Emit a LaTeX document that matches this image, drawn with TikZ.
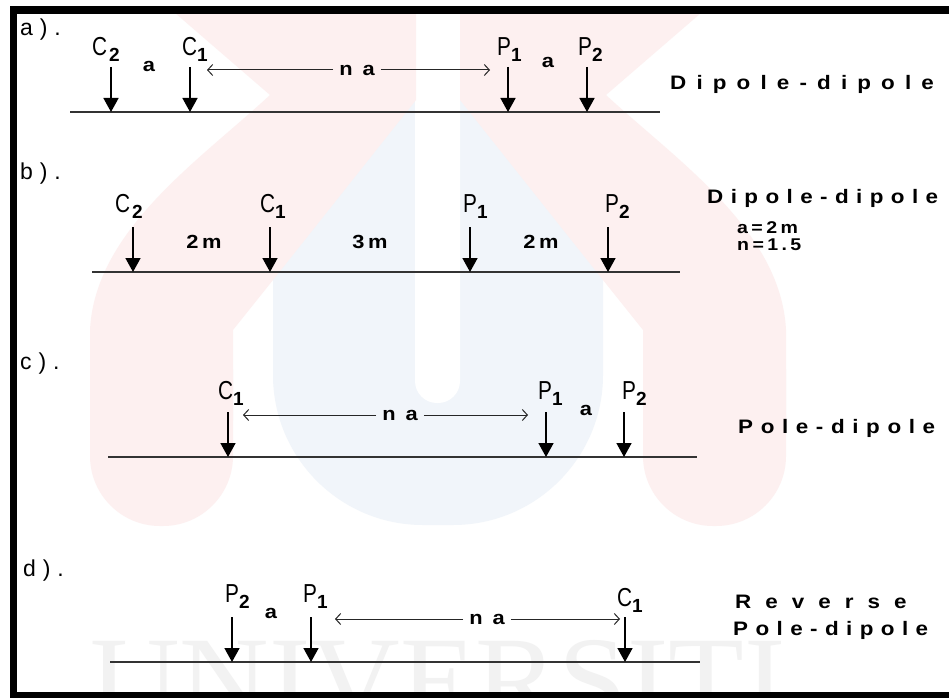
\documentclass[tikz,border=0pt]{standalone}
\usepackage{fontspec}
\setmainfont{Liberation Sans}
\newfontfamily\elfont[FakeStretch=0.8]{Liberation Sans}
\newfontfamily\smallfont[FakeStretch=1.15,LetterSpace=20]{Liberation Sans}
\newfontfamily\tagfont[LetterSpace=30]{Liberation Sans}
\newfontfamily\titlefont[FakeStretch=1.15]{Liberation Sans}
\newfontfamily\wmfont{Liberation Serif}
\usetikzlibrary{arrows.meta}

\definecolor{wmpink}{RGB}{253,240,240}
\definecolor{wmblue}{RGB}{241,245,250}

\newcommand{\elec}[3][0pt]{{\elfont\fontsize{26}{26}\selectfont #2}\kern#1\raisebox{-6pt}{\bfseries\fontsize{19}{19}\selectfont #3}}
\newcommand{\spread}[2]{{\addfontfeature{LetterSpace=#1}#2}}

\begin{document}
\begin{tikzpicture}[x=1pt,y=-1pt]

\def\alen{45}

\tikzstyle{ground} = [draw=black!80,line width=1.6pt];
\tikzstyle{elec} = [draw=black,line width=1.6pt,-{Triangle[width=15pt,length=14pt]}];
\tikzstyle{naline} = [draw=black!85,line width=1pt,-{Straight Barb[length=5pt,width=11pt]}];
\tikzstyle{elabel} = [anchor=base west,inner sep=0pt];
\tikzstyle{paneltag} = [anchor=base west,inner sep=0pt,font=\tagfont\fontsize{23}{23}\selectfont];
\tikzstyle{dlabel} = [anchor=base,inner sep=0pt,font=\smallfont\bfseries\fontsize{19}{19}\selectfont];
\tikzstyle{vlabel} = [anchor=base west,inner sep=0pt,font=\smallfont\bfseries\fontsize{17}{17}\selectfont];
\tikzstyle{nalabel} = [inner sep=6pt,font=\smallfont\bfseries\fontsize{19}{19}\selectfont];
\tikzstyle{method} = [anchor=base west,inner sep=0pt,font=\titlefont\bfseries\fontsize{19.5}{20}\selectfont];

\fill [white] (0,0) rectangle (949,698);
\useasboundingbox (0,0) rectangle (949,698);

% watermark
\begin{scope}
\clip (17,14) rectangle (949,692);
\fill [wmblue,rounded corners=150] (273,-300) rectangle (603,525);
\fill [white,rounded corners=22] (415,-100) rectangle (460,403);
\fill [wmpink] (160,0) -- (416,0) -- (416,100) -- (273,280) -- (233,330) -- (233,420) -- (90,420) -- (90,330) .. controls (95,230) and (200,160) .. (270,95) -- cycle;
\fill [wmpink] (716,0) -- (460,0) -- (460,100) -- (603,280) -- (643,330) -- (643,420) -- (786,420) -- (786,330) .. controls (781,230) and (676,160) .. (606,95) -- cycle;
\fill [wmpink,rounded corners=70] (90,300) rectangle (233,526);
\fill [wmpink,rounded corners=70] (643,300) rectangle (786,526);
\node [anchor=base west,inner sep=0pt,text=black!5,font=\wmfont\fontsize{124}{124}\selectfont] (wm) at (90,722) {UNIVERSITI};
\end{scope}

\fill [black] (10,6) rectangle (949,14);
\fill [black] (10,6) rectangle (17,698);
\fill [black] (10,692) rectangle (949,698);

\begin{scope}[yshift=-112pt]

\node [paneltag] (tag) at (20,-76) {a).};

\coordinate (g0) at (70,0);
\coordinate (g1) at (660,0);
\draw [ground] (g0) -- (g1);

\coordinate (e0) at (111,0);
\coordinate (e1) at (190,0);
\coordinate (e2) at (508,0);
\coordinate (e3) at (587,0);

\draw [elec] ([yshift=\alen]e0) -- (e0);
\draw [elec] ([yshift=\alen]e1) -- (e1);
\draw [elec] ([yshift=\alen]e2) -- (e2);
\draw [elec] ([yshift=\alen]e3) -- (e3);

\node [elabel] (l0) at ([xshift=-19,yshift=56]e0) {\elec[2pt]{C}{2}};
\node [elabel] (l1) at ([xshift=-8,yshift=56]e1) {\elec{C}{1}};
\node [elabel] (l2) at ([xshift=-11,yshift=56]e2) {\elec{P}{1}};
\node [elabel] (l3) at ([xshift=-9,yshift=56]e3) {\elec{P}{2}};

\node [dlabel] (s0) at (149,-40) {a};
\node [dlabel] (s1) at (548,-44) {a};

\coordinate (n0) at (207,-42);
\coordinate (n1) at (490,-42);
\node [nalabel] (na) at (357,-42) {n a};
\draw [naline] (na) -- (n0);
\draw [naline] (na) -- (n1);

\node [method] (m0) at (670,-22) {\spread{52}{Dipole-dipole}};

\end{scope}

\begin{scope}[yshift=-272pt]

\node [paneltag] (tag) at (20,-93) {b).};

\coordinate (g0) at (92,0);
\coordinate (g1) at (680,0);
\draw [ground] (g0) -- (g1);

\coordinate (e0) at (133,0);
\coordinate (e1) at (270,0);
\coordinate (e2) at (470,0);
\coordinate (e3) at (608,0);

\draw [elec] ([yshift=\alen]e0) -- (e0);
\draw [elec] ([yshift=\alen]e1) -- (e1);
\draw [elec] ([yshift=\alen]e2) -- (e2);
\draw [elec] ([yshift=\alen]e3) -- (e3);

\node [elabel] (l0) at ([xshift=-18,yshift=60]e0) {\elec[2pt]{C}{2}};
\node [elabel] (l1) at ([xshift=-10,yshift=60]e1) {\elec{C}{1}};
\node [elabel] (l2) at ([xshift=-7,yshift=60]e2) {\elec{P}{1}};
\node [elabel] (l3) at ([xshift=-3,yshift=60]e3) {\elec{P}{2}};

\node [dlabel] (s0) at (204,-24) {2m};
\node [dlabel] (s1) at (370,-24) {3m};
\node [dlabel] (s2) at (541,-24) {2m};

\node [method] (m0) at (707,-69) {\spread{38}{Dipole-dipole}};
\node [vlabel] (m1) at (737,-39) {a=2m};
\node [vlabel] (m2) at (737,-22) {n=1.5};

\end{scope}

\begin{scope}[yshift=-457pt]

\node [paneltag] (tag) at (20,-88) {c).};

\coordinate (g0) at (108,0);
\coordinate (g1) at (697,0);
\draw [ground] (g0) -- (g1);

\coordinate (e0) at (228,0);
\coordinate (e1) at (546,0);
\coordinate (e2) at (624,0);

\draw [elec] ([yshift=\alen]e0) -- (e0);
\draw [elec] ([yshift=\alen]e1) -- (e1);
\draw [elec] ([yshift=\alen]e2) -- (e2);

\node [elabel] (l0) at ([xshift=-10,yshift=58]e0) {\elec{C}{1}};
\node [elabel] (l1) at ([xshift=-8,yshift=58]e1) {\elec{P}{1}};
\node [elabel] (l2) at ([xshift=-2,yshift=58]e2) {\elec{P}{2}};

\node [dlabel] (s0) at (586,-42) {a};

\coordinate (n0) at (243,-42);
\coordinate (n1) at (528,-42);
\node [nalabel] (na) at (400,-42) {n a};
\draw [naline] (na) -- (n0);
\draw [naline] (na) -- (n1);

\node [method] (m0) at (738,-24) {\spread{39}{Pole-dipole}};

\end{scope}

\begin{scope}[yshift=-662pt]

\node [paneltag] (tag) at (23,-86) {d).};

\coordinate (g0) at (110,0);
\coordinate (g1) at (700,0);
\draw [ground] (g0) -- (g1);

\coordinate (e0) at (232,0);
\coordinate (e1) at (311,0);
\coordinate (e2) at (625,0);

\draw [elec] ([yshift=\alen]e0) -- (e0);
\draw [elec] ([yshift=\alen]e1) -- (e1);
\draw [elec] ([yshift=\alen]e2) -- (e2);

\node [elabel] (l0) at ([xshift=-7,yshift=60]e0) {\elec{P}{2}};
\node [elabel] (l1) at ([xshift=-8,yshift=60]e1) {\elec{P}{1}};
\node [elabel] (l2) at ([xshift=-8,yshift=56]e2) {\elec{C}{1}};

\node [dlabel] (s0) at (271,-44) {a};

\coordinate (n0) at (335,-43);
\coordinate (n1) at (620,-43);
\node [nalabel] (na) at (487,-43) {n a};
\draw [naline] (na) -- (n0);
\draw [naline] (na) -- (n1);

\node [method] (m0) at (735,-54) {\spread{72}{Reverse}};
\node [method] (m1) at (733,-27) {\spread{38}{Pole-dipole}};

\end{scope}

\end{tikzpicture}
\end{document}
